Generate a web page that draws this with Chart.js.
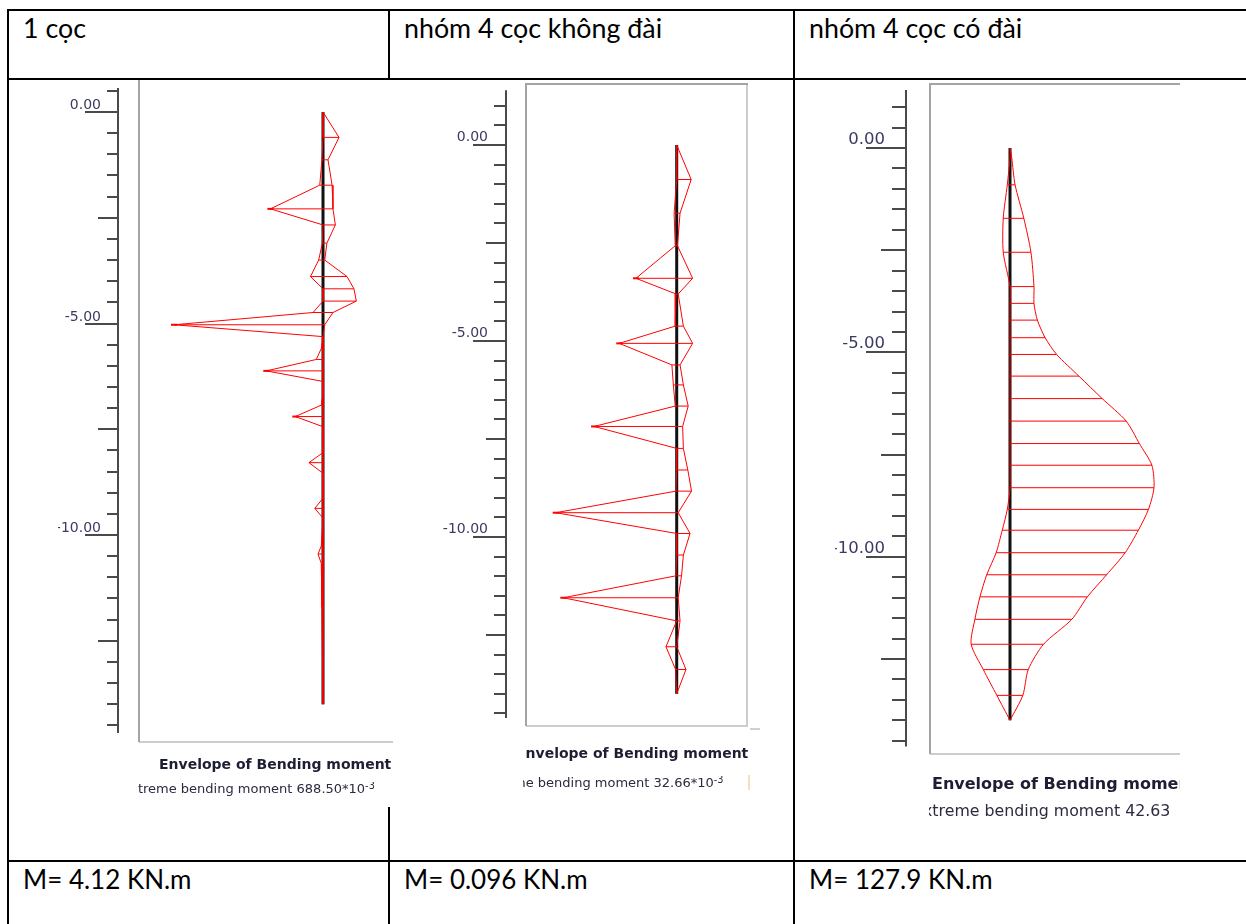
<!DOCTYPE html>
<html>
<head>
<meta charset="utf-8">
<script src="https://cdn.jsdelivr.net/npm/chart.js@4/dist/chart.umd.min.js"></script>
<style>
  body { margin: 0; width: 1246px; height: 924px; overflow: hidden; background: #fff; font-family: Lato, sans-serif; }
  .tbl { position: absolute; left: 7px; top: 9px; display: grid;
         grid-template-columns: 381px 405px 460px; grid-template-rows: 69px 782px 80px;
         border-left: 2px solid #000; border-top: 2px solid #000; }
  .cell { box-sizing: border-box; border-right: 2px solid #000; border-bottom: 2px solid #000;
          font-size: 26px; color: #000; padding: 2px 0 0 14px; white-space: nowrap; line-height: 1.2; }
  .head { font-size: 26.8px; padding-top: 1px; }
  .shot { position: absolute; background: #fff; overflow: hidden; z-index: 2; }
  .shot canvas { position: absolute; left: 0; }
  .clip { position: absolute; overflow: hidden; height: 24px; }
  .txt { position: absolute; top: 0; white-space: nowrap; line-height: 1; font-family: "DejaVu Sans", sans-serif; }
  .ttl { font-weight: bold; color: #1e1e32; }
  .sub { color: #2a2a40; }
  .sub sup { font-size: 0.75em; vertical-align: 0.45em; line-height: 0; }
</style>
</head>
<body>
<div class="tbl">
  <div class="cell head">1 cọc</div>
  <div class="cell head">nhóm 4 cọc không đài</div>
  <div class="cell head">nhóm 4 cọc có đài</div>
  <div class="cell"></div>
  <div class="cell"></div>
  <div class="cell"></div>
  <div class="cell">M= 4.12 KN.m</div>
  <div class="cell">M= 0.096 KN.m</div>
  <div class="cell">M= 127.9 KN.m</div>
</div>

<!-- panel 1 -->
<div class="shot" style="left:58px;top:80px;width:335px;height:727px">
  <canvas id="c1" width="380" height="747" style="top:-20px"></canvas>
  <div class="clip" style="left:0;top:677px;width:335px">
    <div class="txt ttl" style="left:101px;font-size:14px">Envelope of Bending moment</div>
  </div>
  <div class="clip" style="left:80px;top:702px;width:255px">
    <div class="txt sub" style="left:-16px;font-size:13px">Extreme bending moment 688.50*10<sup>-3</sup></div>
  </div>
</div>

<!-- panel 2 -->
<div class="shot" style="left:428px;top:80px;width:332px;height:720px">
  <canvas id="c2" width="332" height="720" style="top:0"></canvas>
  <div class="clip" style="left:97px;top:666px;width:235px">
    <div class="txt ttl" style="left:-9px;font-size:14px">Envelope of Bending moment</div>
  </div>
  <div class="clip" style="left:95px;top:696px;width:237px">
    <div class="txt sub" style="left:-44px;font-size:13px">Extreme bending moment 32.66*10<sup>-3</sup></div>
  </div>
  <div style="position:absolute;left:322px;top:648px;width:10px;height:2px;background:#d0d0d0"></div>
  <div style="position:absolute;left:320px;top:695px;width:2px;height:15px;background:#f3e2b8"></div>
</div>

<!-- panel 3 -->
<div class="shot" style="left:835px;top:80px;width:345px;height:750px">
  <canvas id="c3" width="385" height="750" style="top:0"></canvas>
  <div class="clip" style="left:95px;top:696px;width:250px">
    <div class="txt ttl" style="left:2px;font-size:16px">Envelope of Bending moment</div>
  </div>
  <div class="clip" style="left:94px;top:723px;width:240px">
    <div class="txt sub" style="left:-16px;font-size:15.8px">Extreme bending moment 42.63*10<sup>-3</sup></div>
  </div>
</div>

<script>
// 1 cọc: depth (m) and envelope of bending moment (x10^-3 kN.m)
const depth1 = [0, -0.6, -1.13, -1.73, -2.29, -2.67, -3.1, -3.5, -3.89, -4.18, -4.47, -4.74, -5.03, -5.31,
  -5.59, -5.85, -6.12, -6.37, -6.65, -6.93, -7.2, -7.44, -8.05, -8.29, -8.54, -9.13, -9.37, -9.6,
  -10.26, -10.45, -10.67, -11.4, -11.7, -14.0];
const max1 = [0, 74, 23, 42, 46, 57, 18, 8, 111, 143, 154, 46, 8, 0,
  0, 0, 0, 0, 0, 0, 0, 0, 0, 0, 0, 0, 0, 0,
  0, 0, 0, 0, 0, 0];
const min1 = [0, 0, -5, -15, -243, 0, -3, -20, -58, 0, 0, -46, -688.5, 0,
  -8, -31, -262, 0, 0, -8, -128, 0, 0, -65, 0, 0, -38, 0,
  -8, -23, -8, -5, -5, 0];

// nhóm 4 cọc không đài
const depth2 = [0, -0.88, -1.74, -2.57, -3.4, -3.8, -4.62, -5.06, -5.61, -6.12, -6.66, -7.18,
  -7.74, -8.29, -8.83, -9.38, -9.91, -10.46, -10.99, -11.55, -12.14, -12.8, -13.38, -14.0];
const max2 = [0, 3.9, 0.9, 0.2, 4.3, 0.4, 1.8, 4.3, 0.9, 1.8, 3.1, 1.6,
  1.8, 3.0, 4.0, 0.4, 3.6, 1.8, 1.3, 0.4, 0.9, 0, 2.5, 0];
const min2 = [0, 0, -0.7, -0.4, -11.0, -0.2, -0.4, -15.5, -1.3, -0.9, -0.4, -22.3,
  0, 0, -0.2, -32.66, 0, 0, -0.2, -30.6, 0, -2.9, -0.3, 0];

// nhóm 4 cọc có đài
const depth3 = [0, -0.23, -0.9, -1.72, -2.55, -3.39, -3.8, -4.21, -4.64, -5.05, -5.58, -6.13, -6.68,
  -7.23, -7.76, -8.31, -8.84, -9.35, -9.9, -10.44, -10.98, -11.53, -12.14, -12.76, -13.39, -14.0];
const max3 = [0, 0.5, 1.5, 4.1, 6.2, 7.1, 7.1, 8.1, 10.4, 13.8, 20.4, 27.3, 34.4,
  38.3, 42.0, 42.63, 41.0, 38.0, 34.1, 28.6, 22.9, 18.3, 9.9, 5.4, 3.8, 0];
const min3 = [0, 0, -0.8, -2.0, -2.0, 0, 0, 0, 0, 0, 0, 0, 0,
  0, 0, 0, -0.8, -2.3, -4.1, -6.9, -8.9, -10.4, -11.5, -7.9, -3.9, 0];

// pile and depth ruler
const pileX = [0, 0];
const pileDepth = [0, -14];
const labelValues = [0, -5, -10];
const tickLabels = ['0.00', '-5.00', '-10.00'];

const RED = '#ff0000';

function pts(xs, ys) {
  return ys.map((y, i) => ({ x: xs[i], y: y }));
}

// horizontal hatch line at each node, from min to max
function hatch(mins, maxs, ys) {
  const out = [];
  ys.forEach((y, i) => {
    out.push({ x: mins[i], y: y }, { x: maxs[i], y: y }, { x: null, y: null });
  });
  return out;
}

// grey frame round the plot area
const framePlugin = {
  id: 'frame',
  beforeDatasetsDraw(chart) {
    const a = chart.chartArea, ctx = chart.ctx;
    ctx.save();
    ctx.lineWidth = 2;
    ctx.strokeStyle = '#cdcdcd';
    ctx.beginPath();
    ctx.moveTo(a.right + 1, a.top - 1); ctx.lineTo(a.right + 1, a.bottom + 1);
    ctx.moveTo(a.left - 1, a.bottom + 1); ctx.lineTo(a.right + 2, a.bottom + 1);
    ctx.stroke();
    ctx.strokeStyle = '#a4a4a4';
    ctx.beginPath();
    ctx.moveTo(a.left - 1, a.bottom + 1); ctx.lineTo(a.left - 1, a.top - 1);
    ctx.lineTo(a.right + 2, a.top - 1);
    ctx.stroke();
    ctx.restore();
  }
};

// depth ruler left of the frame
const rulerPlugin = {
  id: 'ruler',
  afterDraw(chart, args, o) {
    const ctx = chart.ctx, ys = chart.scales.y;
    const ax = chart.chartArea.left - o.gap;
    ctx.save();
    ctx.strokeStyle = '#4a4a4a';
    ctx.lineWidth = 2;
    ctx.beginPath();
    ctx.moveTo(ax, ys.getPixelForValue(o.top));
    ctx.lineTo(ax, ys.getPixelForValue(o.bottom));
    for (let v = o.first; v >= o.bottom; v -= 0.5) {
      const py = Math.round(ys.getPixelForValue(v));
      let len = o.lens[2];
      if (Math.abs(v % 5) < 1e-6) len = o.lens[0];
      else if (Math.abs(v % 2.5) < 1e-6) len = o.lens[1];
      ctx.moveTo(ax, py);
      ctx.lineTo(ax - len, py);
    }
    ctx.stroke();
    ctx.fillStyle = '#3a3a62';
    ctx.font = o.font + 'px "DejaVu Sans"';
    ctx.textAlign = 'right';
    ctx.textBaseline = 'alphabetic';
    labelValues.forEach((v, i) => {
      ctx.fillText(tickLabels[i], ax - o.labelGap, ys.getPixelForValue(v) - o.lift);
    });
    ctx.restore();
  }
};

function buildPanel(id, d, mx, mn, o) {
  const line = { showLine: true, borderColor: RED, borderWidth: 1, pointRadius: 0, tension: o.tension };
  new Chart(document.getElementById(id), {
    type: 'scatter',
    data: {
      datasets: [
        Object.assign({ data: hatch(mn, mx, d), spanGaps: false }, line, { tension: 0 }),
        Object.assign({ data: pts(mx, d) }, line),
        Object.assign({ data: pts(mn, d) }, line, {
          // small marks at the tips of the spikes
          pointStyle: 'line',
          pointBorderColor: RED,
          pointBorderWidth: 2,
          pointRadius: c => (c.raw && c.raw.x < o.spike ? 3 : 0)
        }),
        { data: pts(pileX, pileDepth), showLine: true, borderColor: '#111', borderWidth: 3, pointRadius: 0 }
      ]
    },
    options: {
      responsive: false,
      animation: false,
      events: [],
      layout: { padding: o.pad },
      plugins: {
        legend: { display: false },
        tooltip: { enabled: false },
        ruler: o.ruler
      },
      scales: {
        x: { type: 'linear', display: false, min: o.x[0], max: o.x[1] },
        y: { type: 'linear', display: false, min: o.y[0], max: o.y[1] }
      }
    },
    plugins: [framePlugin, rulerPlugin]
  });
}

buildPanel('c1', depth1, max1, min1, {
  tension: 0, spike: -100,
  pad: { left: 82, top: 10, right: 18, bottom: 66 },
  x: [-845.7, 448.2], y: [-14.87, 0.993],
  ruler: { gap: 22, top: 0.57, bottom: -14.68, first: 0.5, lens: [33, 20, 11], font: 14, labelGap: 17, lift: 3 }
});

buildPanel('c2', depth2, max2, min2, {
  tension: 0, spike: -10,
  pad: { left: 99, top: 5, right: 14, bottom: 75 },
  x: [-40.4, 18.7], y: [-14.796, 1.531],
  ruler: { gap: 21, top: 1.40, bottom: -14.62, first: 1.0, lens: [33, 20, 12], font: 14, labelGap: 18, lift: 4 }
});

buildPanel('c3', depth3, max3, min3, {
  tension: 0.25, spike: -1000,
  pad: { left: 96, top: 5, right: 20, bottom: 77 },
  x: [-23.39, 56.25], y: [-14.80, 1.542],
  ruler: { gap: 25, top: 1.42, bottom: -14.64, first: 1.0, lens: [40, 25, 14], font: 16.5, labelGap: 21, lift: 4 }
});
</script>
</body>
</html>
